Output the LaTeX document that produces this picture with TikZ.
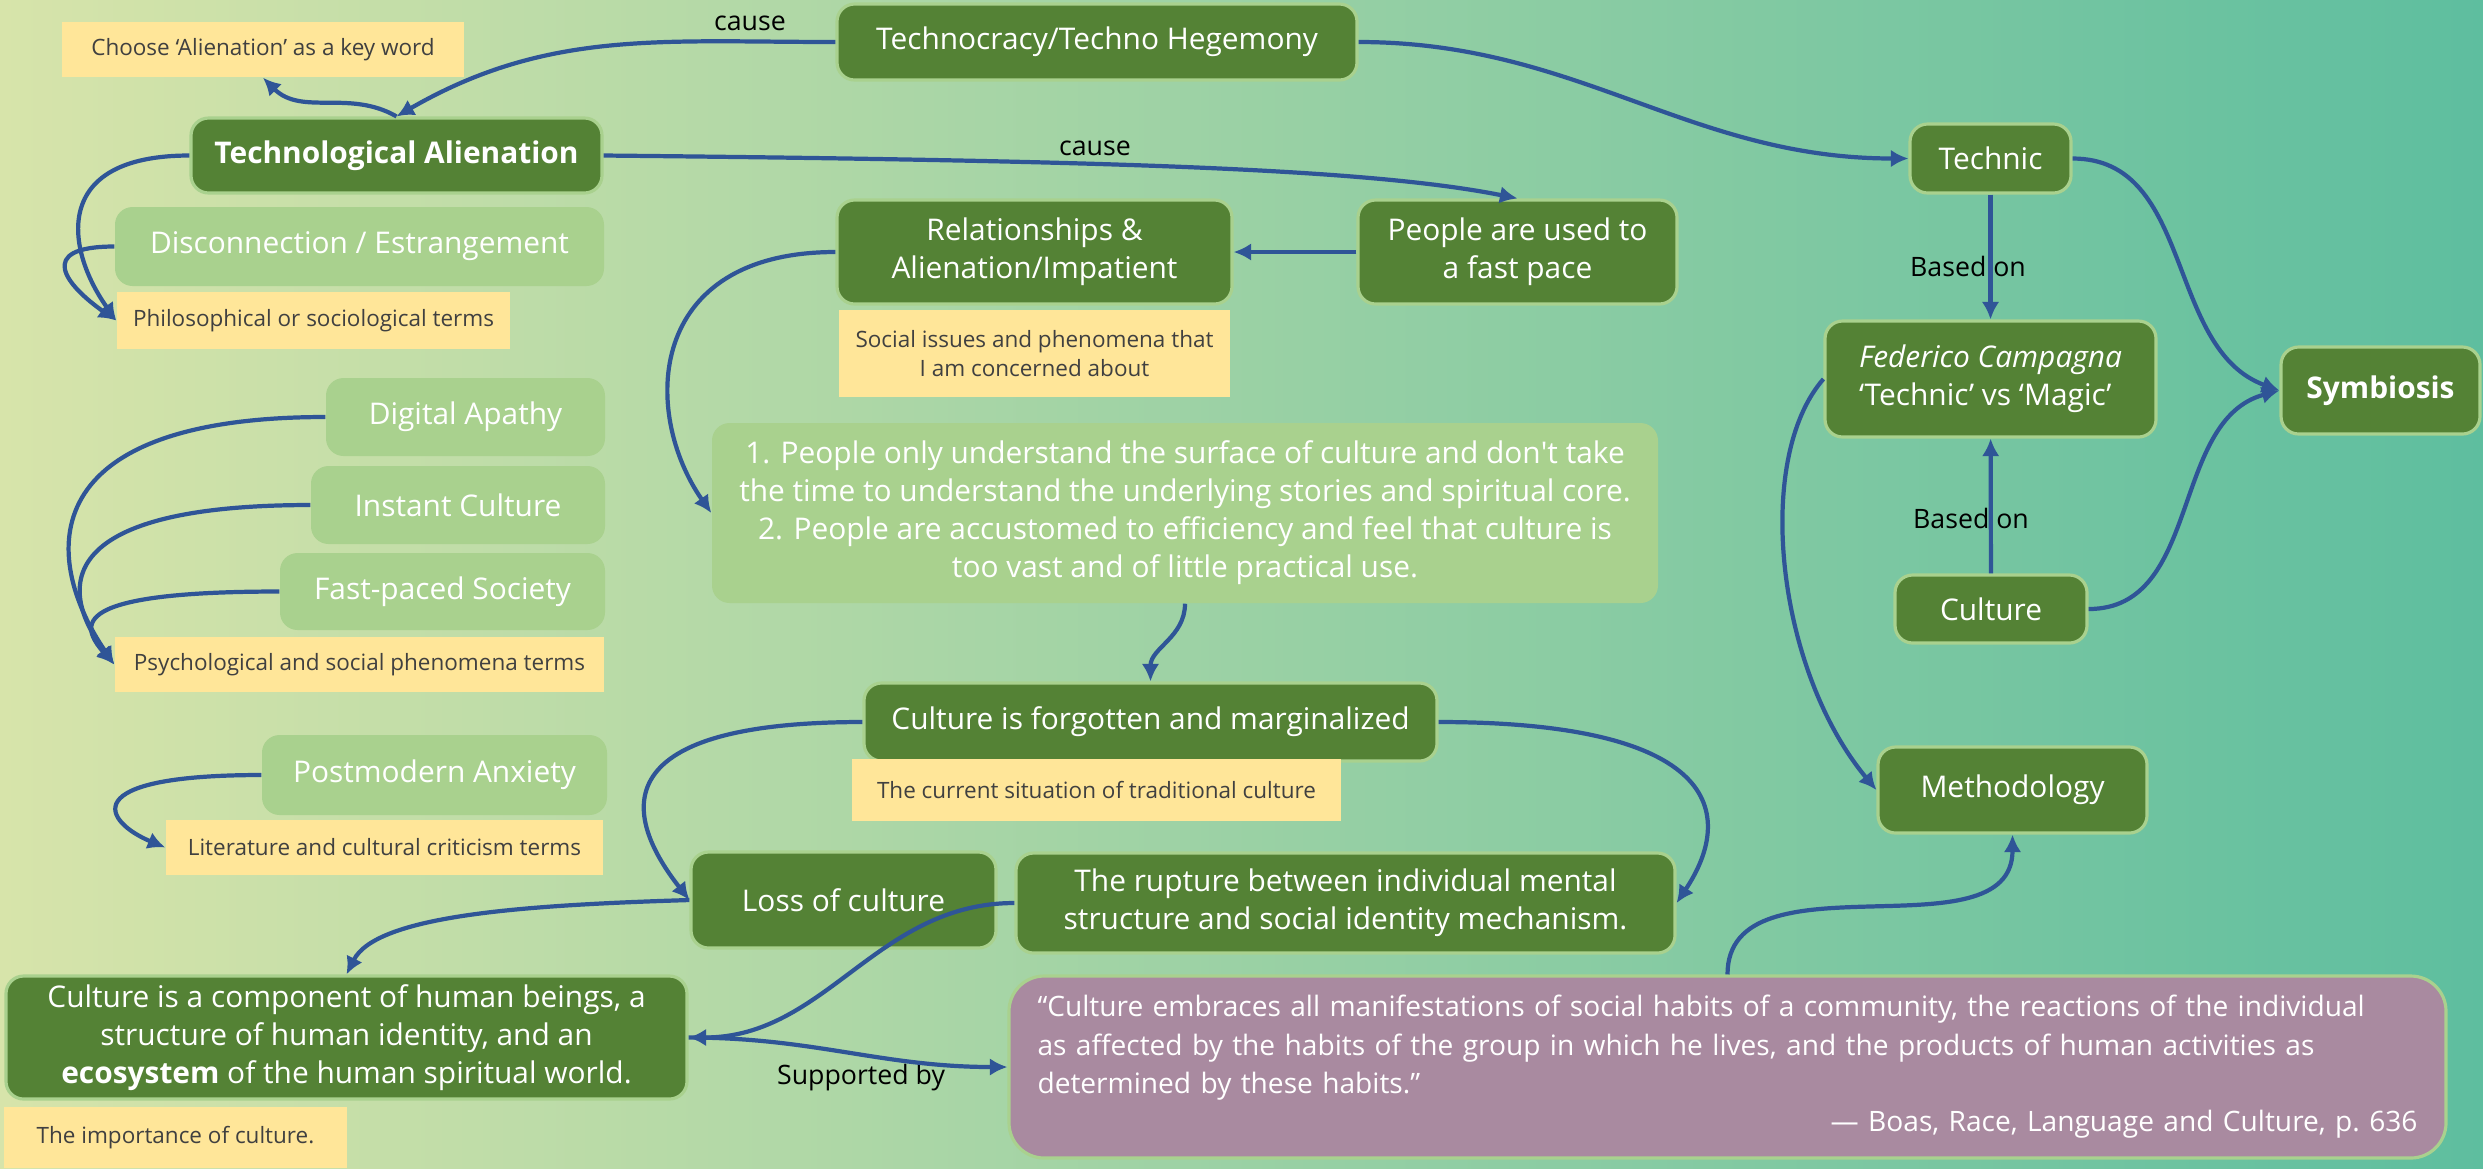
\documentclass[tikz,border=0pt]{standalone}
\usepackage{fontspec}
\setmainfont{Open Sans}
\usetikzlibrary{arrows.meta}
\definecolor{bgleft}{HTML}{D7E4AA}
\definecolor{bgright}{HTML}{5EBE9F}
\definecolor{leaf}{HTML}{548235}
\definecolor{frame}{HTML}{A9D18E}
\definecolor{sticky}{HTML}{FFE699}
\definecolor{ink}{HTML}{404040}
\definecolor{mauve}{HTML}{A98AA0}
\definecolor{wire}{HTML}{2F5597}

\begin{document}
\begin{tikzpicture}[
  dark/.style={draw=frame,line width=0.9pt,fill=leaf,rounded corners=5pt,text=white,align=center,inner sep=0pt,font=\fsmain},
  pale/.style={fill=frame,rounded corners=5pt,text=white,align=center,inner sep=0pt,font=\fsmain},
  note/.style={fill=sticky,text=ink,align=center,inner sep=0pt,font=\fsnote},
  tag/.style={text=black,inner sep=0pt,font=\fstag},
  link/.style={draw=wire,line width=1.2pt,-{Latex[length=5pt,width=5pt]}}]
\def\fsmain{\fontsize{8.5}{10.8}\selectfont}
\def\fsnote{\fontsize{6.4}{8.2}\selectfont}
\def\fstag{\fontsize{7.6}{9}\selectfont}
\def\fsquote{\fontsize{8}{10.9}\selectfont}
\useasboundingbox (0,0) rectangle (24.83,-11.68);
\shade[left color=bgleft,right color=bgright] (0,0) rectangle (24.83,-11.68);

\node[note,minimum width=4.02cm,minimum height=0.55cm] (keyword) at (2.63,-0.495) {Choose ‘Alienation’ as a key word};
\node[dark,minimum width=5.20cm,minimum height=0.76cm] (hegemony) at (10.97,-0.42) {Technocracy/Techno Hegemony};
\node[dark,minimum width=4.11cm,minimum height=0.75cm,font=\fsmain\bfseries] (alienation) at (3.965,-1.555) {Technological Alienation};
\node[pale,minimum width=4.89cm,minimum height=0.79cm] (disconnect) at (3.595,-2.465) {Disconnection / Estrangement};
\node[note,minimum width=3.93cm,minimum height=0.57cm] (philo) at (3.135,-3.205) {Philosophical or sociological terms};
\node[dark,minimum width=3.95cm,minimum height=1.04cm] (relation) at (10.345,-2.52) {Relationships \&\\Alienation/Impatient};
\node[dark,minimum width=3.19cm,minimum height=1.04cm] (pace) at (15.175,-2.52) {People are used to\\a fast pace};
\node[note,minimum width=3.91cm,minimum height=0.87cm] (issues) at (10.345,-3.535) {Social issues and phenomena that\\I am concerned about};
\node[pale,minimum width=2.79cm,minimum height=0.78cm] (apathy) at (4.655,-4.17) {Digital Apathy};
\node[pale,minimum width=2.94cm,minimum height=0.78cm] (instant) at (4.58,-5.05) {Instant Culture};
\node[pale,minimum width=3.25cm,minimum height=0.77cm] (fastpaced) at (4.425,-5.915) {Fast-paced Society};
\node[note,minimum width=4.89cm,minimum height=0.55cm] (psych) at (3.595,-6.645) {Psychological and social phenomena terms};
\node[pale,minimum width=3.45cm,minimum height=0.80cm] (postmodern) at (4.345,-7.75) {Postmodern Anxiety};
\node[note,minimum width=4.37cm,minimum height=0.55cm] (criticism) at (3.845,-8.475) {Literature and cultural criticism terms};
\node[pale,minimum width=9.46cm,minimum height=1.80cm] (surface) at (11.85,-5.13) {1. People only understand the surface of culture and don\textquotesingle t take\\the time to understand the underlying stories and spiritual core.\\2. People are accustomed to efficiency and feel that culture is\\too vast and of little practical use.};
\node[dark,minimum width=5.73cm,minimum height=0.78cm] (forgotten) at (11.505,-7.22) {Culture is forgotten and marginalized};
\node[note,minimum width=4.89cm,minimum height=0.62cm] (situation) at (10.965,-7.90) {The current situation of traditional culture};
\node[dark,minimum width=3.05cm,minimum height=0.96cm] (loss) at (8.435,-9.00) {Loss of culture};
\node[dark,minimum width=6.59cm,minimum height=1.00cm] (rupture) at (13.455,-9.03) {The rupture between individual mental\\structure and social identity mechanism.};
\node[dark,minimum width=6.81cm,minimum height=1.23cm] (component) at (3.465,-10.375) {Culture is a component of human beings, a\\structure of human identity, and an\\\textbf{ecosystem} of the human spiritual world.};
\node[note,minimum width=3.43cm,minimum height=0.61cm] (importance) at (1.755,-11.375) {The importance of culture.};
\node[dark,fill=mauve,rounded corners=10pt,minimum width=14.37cm,minimum height=1.82cm,text width=13.8cm,align=left,font=\fsquote] (quote) at (17.275,-10.67) {“Culture embraces all manifestations of social habits of a community, the reactions of the individual\\as affected by the habits of the group in which he lives, and the products of human activities as\\determined by these habits.”\\\hfill — Boas, Race, Language and Culture, p.\ 636};
\node[dark,minimum width=1.61cm,minimum height=0.69cm] (technic) at (19.905,-1.585) {Technic};
\node[dark,minimum width=3.31cm,minimum height=1.16cm,align=left] (campagna) at (19.905,-3.79) {\textit{Federico Campagna}\\‘Technic’ vs ‘Magic’};
\node[dark,minimum width=1.99cm,minimum height=0.87cm,font=\fsmain\bfseries] (symbiosis) at (23.805,-3.905) {Symbiosis};
\node[dark,minimum width=1.92cm,minimum height=0.68cm] (culture) at (19.91,-6.09) {Culture};
\node[dark,minimum width=2.69cm,minimum height=0.86cm] (method) at (20.125,-7.90) {Methodology};

\node[tag] (cause1) at (7.50,-0.23) {cause};
\node[tag] (cause2) at (10.95,-1.48) {cause};
\node[tag] (based1) at (19.68,-2.66) {Based on};
\node[tag] (based2) at (19.71,-5.18) {Based on};
\node[tag] (support) at (8.61,-10.78) {Supported by};

\draw[link] (hegemony.west) to[out=180,in=30] (alienation.north);
\draw[link] (alienation.north) to[out=150,in=-45] (keyword.south);
\draw[link] (alienation.east) .. controls +(5,-0.05) and +(-1.5,0.3) .. (pace.north);
\draw[link] (alienation.west) .. controls +(-1.4,0) and +(-0.5,0.7) .. (philo.west);
\draw[link] (disconnect.west) .. controls +(-0.8,0) and +(-0.5,0.35) .. (philo.west);
\draw[link] (pace) -- (relation);
\draw[link] (relation.west) .. controls +(-1.9,0) and +(-0.7,1.0) .. (surface.west);
\draw[link] (apathy.west) .. controls +(-2.9,0) and +(-0.75,1.1) .. (psych.west);
\draw[link] (instant.west) .. controls +(-2.5,0) and +(-0.6,0.8) .. (psych.west);
\draw[link] (fastpaced.west) .. controls +(-2.1,0) and +(-0.35,0.4) .. (psych.west);
\draw[link] (postmodern.west) .. controls +(-1.9,0) and +(-0.6,0.25) .. (criticism.west);
\draw[link] (surface.south) to[out=-90,in=90] (forgotten.north);
\draw[link] (forgotten.west) .. controls +(-2.8,0) and +(-0.55,0.7) .. (loss.west);
\draw[link] (forgotten.east) .. controls +(2.8,0) and +(0.6,0.9) .. (rupture.east);
\draw[link] (loss.west) .. controls +(-1.6,-0.05) and +(0.3,0.6) .. (component.north);
\draw[link] (rupture.west) to[out=180,in=0] (component.east);
\draw[link] (component.east) to[out=0,in=180] (quote.west);
\draw[link] (quote.north) to[out=90,in=-90] (method.south);
\draw[link] (campagna.west) .. controls +(-0.7,-0.8) and +(-1.0,1.2) .. (method.west);
\draw[link] (hegemony.east) to[out=0,in=180] (technic.west);
\draw[link] (technic) -- (campagna);
\draw[link] (culture) -- (campagna);
\draw[link] (technic.east) to[out=0,in=160] (symbiosis.west);
\draw[link] (culture.east) to[out=0,in=195] (symbiosis.west);
\end{tikzpicture}
\end{document}
